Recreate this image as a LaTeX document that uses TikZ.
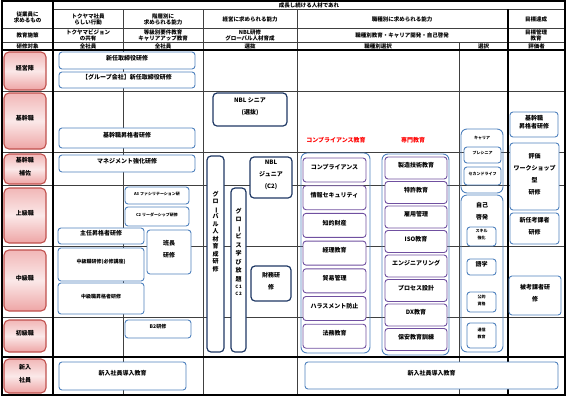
\documentclass[tikz,border=0pt]{standalone}
\usepackage{fontspec}
\setmainfont{Noto Sans CJK JP}
\usepackage{graphicx}
\usepackage{tikz}
\usetikzlibrary{fit,positioning}
\definecolor{wakublue}{RGB}{79,129,189}
\definecolor{nblnavy}{RGB}{31,56,100}
\definecolor{cppurple}{RGB}{112,80,160}
\definecolor{lvlred}{RGB}{192,80,77}
\definecolor{lvlpink}{RGB}{238,165,165}
\newcommand\tatebo{\rotatebox[origin=c]{-90}{ー}}
\tikzset{
  cell/.style={draw=black!75,line width=0.6pt},
  thickrule/.style={draw=black,line width=1.1pt},
  hd/.style={font=\fontsize{5.5}{6}\selectfont\bfseries,align=center,inner sep=0pt},
  lvl/.style={draw=lvlred,line width=1.1pt,rounded corners=5pt,top color=lvlpink!80,bottom color=lvlpink,middle color=lvlpink!25,inner sep=0pt,align=center,font=\fontsize{6}{13}\selectfont\bfseries},
  bx/.style={draw=wakublue,line width=0.9pt,rounded corners=3pt,fill=white,inner sep=0pt,align=center,font=\fontsize{6}{12}\selectfont\bfseries},
  nbl/.style={bx,draw=nblnavy,line width=1.2pt,rounded corners=4pt},
  cp/.style={bx,draw=cppurple},
  grp/.style={draw=wakublue,line width=0.9pt,rounded corners=6pt,inner sep=0pt},
  smalltxt/.style={font=\fontsize{4}{7}\selectfont\bfseries},
  midtxt/.style={font=\fontsize{5}{8}\selectfont\bfseries},
  redlab/.style={text=red,font=\fontsize{6}{6}\selectfont\bfseries,inner sep=0pt},
}

\begin{document}
\begin{tikzpicture}[x=1pt,y=-1pt]
\useasboundingbox (0,0) rectangle (567,397);
% --- table rules
\draw[cell] (53,9) -- (565,9);
\draw[cell] (2,28) -- (565,28);
\draw[cell] (2,42) -- (565,42);
\foreach \y in {91,152,185,246,317} \draw[cell] (2,\y) -- (565,\y);
\foreach \x in {123,203,297} \draw[cell] (\x,9) -- (\x,395);
\draw[cell] (459,42) -- (459,395);
\draw[thickrule] (2,50) -- (565,50);
\draw[thickrule] (2,357) -- (565,357);
\draw[thickrule] (53,1) -- (53,395);
\draw[thickrule] (508,9) -- (508,395);
\draw[thickrule] (2,1) rectangle (565,395);

% --- header
\node[hd] (seicho) at (309,5) {成長し続ける人材であれ};
\node[hd] (motomeru) at (27.5,17) {従業員に\\求めるもの};
\node[hd] (kodo) at (88,19) {トクヤマ社員\\らしい行動};
\node[hd] (kaiso) at (163,19) {階層別に\\求められる能力};
\node[hd] (keieinoryoku) at (250,19) {経営に求められる能力};
\node[hd] (shokushu) at (402,19) {職種別に求められる能力};
\node[hd] (mokuhyo) at (536,19) {目標達成};
\node[hd] (shisaku) at (27.5,35) {教育施策};
\node[hd] (vision) at (88,35) {トクヤマビジョン\\の共有};
\node[hd] (tokyu) at (163,35) {等級別要件教育\\キャリアアップ教育};
\node[hd] (nblkenshu) at (250,35) {NBL研修\\グローバル人材育成};
\node[hd] (shokushukyoiku) at (402,35) {職種別教育・キャリア開発・自己啓発};
\node[hd] (mokuhyokanri) at (536,35) {目標管理\\教育};
\node[hd] (taisho) at (27.5,46) {研修対象};
\node[hd] (zen1) at (88,46) {全社員};
\node[hd] (zen2) at (163,46) {全社員};
\node[hd] (senbatsu) at (250,46) {選抜};
\node[hd] (shokusen) at (378,46) {職種別選択};
\node[hd] (sentaku) at (483.5,46) {選択};
\node[hd] (hyokasha) at (536.5,46) {評価者};

% --- levels
\node[lvl,fit={(4,52) (46,90)}] (keiei) {経営陣};
\node[lvl,fit={(4,93) (46,149)}] (kikan) {基幹職};
\node[lvl,fit={(4,154) (46,184)}] (hosa) {基幹職\\補佐};
\node[lvl,fit={(4,188) (46,243)}] (jokyu) {上級職};
\node[lvl,fit={(4,250) (46,311)}] (chukyu) {中級職};
\node[lvl,fit={(4,320) (46,352)}] (shokyu) {初級職};
\node[lvl,fit={(4,359) (46,393)}] (shinnyu) {新入\\社員};

% --- tokuyama / kaiso columns
\node[bx,fit={(59,52) (195,69)}] (torishimari) {新任取締役研修};
\node[bx,fit={(59,72) (195,88)}] (gtorishimari) {【グループ会社】新任取締役研修};
\node[bx,fit={(59,128) (195,148)}] (kikanshokaku) {基幹職昇格者研修};
\node[bx,fit={(59,155) (195,172)}] (management) {マネジメント強化研修};
\node[bx,smalltxt,fit={(125,187) (189,204)}] (facil) {A3\ ファシリテーション研};
\node[bx,smalltxt,fit={(125,207) (189,226)}] (leader) {C2\ リーダーシップ研修};
\node[bx,fit={(58,228) (144,244)}] (shunin) {主任昇格者研修};
\node[bx,fit={(147,230) (191,274)}] (hancho) {班長\\研修};
\node[bx,midtxt,fit={(58,248) (144,281)}] (chukyukenshu) {中級職研修(必修講座)};
\node[bx,midtxt,fit={(58,283) (144,314)}] (chukyushokaku) {中級職昇格者研修};
\node[bx,midtxt,fit={(125,320) (191,338)}] (bni) {B2研修};
\node[bx,fit={(59,362) (186,390)}] (donyu) {新入社員導入教育};

% --- NBL / global
\node[nbl,fit={(213,93) (287,126)}] (nblsenior) {NBL シニア\\(選抜)};
\node[nbl,fit={(250,157) (292,198)}] (nbljunior) {NBL\\ジュニア\\(C2)};
\node[nbl,fit={(207,156) (224,352)}] (global) {};
\node[hd,font=\fontsize{6}{7.5}\selectfont\bfseries,anchor=north] (globaltxt) at (215.5,191) {グ\\ロ\\\tatebo\\バ\\ル\\人\\材\\育\\成\\研\\修};
\node[nbl,fit={(231,188) (246,352)}] (globis) {};
\node[hd,font=\fontsize{6}{8.5}\selectfont\bfseries,anchor=north] (globistxt) at (238.5,208) {グ\\ロ\\\tatebo\\ビ\\ス\\学\\び\\放\\題\\[-1pt]{\fontsize{4.5}{5}\selectfont C\,1}\\[-2pt]{\fontsize{4.5}{5}\selectfont C\,2}};
\node[nbl,fit={(251,266) (291,301)}] (zaimu) {財務研\\修};

% --- shokushu
\node[redlab] (cplab) at (336,140) {コンプライアンス教育};
\node[redlab] (smlab) at (413,140) {専門教育};
\node[grp,fit={(301,153) (370,353)}] (cpgrp) {};
\node[grp,fit={(382,154) (449,355)}] (smgrp) {};
\foreach \t [count=\i from 0] in {コンプライアンス,情報セキュリティ,知的財産,経理教育,貿易管理,ハラスメント防止,法務教育}
  \node[cp,fit={(303,{158+27.7*\i}) (366,{182+27.7*\i})}] (cp\i) {\t};
\foreach \t [count=\i from 0] in {製造技術教育,特許教育,雇用管理,ISO教育,エンジニアリング,プロセス設計,DX教育,保安教育訓練}
  \node[cp,fit={(385,{157+24.5*\i}) (447,{179+24.5*\i})}] (sm\i) {\t};
\node[bx,fit={(305,362) (558,389)}] (donyu2) {新入社員導入教育};

% --- sentaku
\node[grp,fit={(461,129) (503,193)}] (career) {};
\node[hd,smalltxt] (careertxt) at (482,138) {キャリア};
\node[bx,smalltxt,fit={(464,147) (501,163)}] (presenior) {プレシニア};
\node[bx,smalltxt,fit={(464,167) (501,185)}] (second) {セカンドライフ};
\node[grp,fit={(461,195) (503,352)}] (jiko) {};
\node[hd,font=\fontsize{6}{12}\selectfont\bfseries] (jikotxt) at (482,211) {自己\\啓発};
\node[bx,smalltxt,fit={(467,227) (496,246)}] (skill) {スキル\\強化};
\node[bx,fit={(467,259) (496,275)}] (gogaku) {語学};
\node[bx,smalltxt,fit={(467,292) (496,312)}] (koteki) {公的\\資格};
\node[bx,smalltxt,fit={(467,323) (496,348)}] (tsushin) {通信\\教育};

% --- mokuhyo
\node[bx,font=\fontsize{6}{8}\selectfont\bfseries,fit={(510,112) (558,137)}] (kikanshokaku2) {基幹職\\昇格者研修};
\node[bx,fit={(510,143) (559,210)}] (hyoka) {評価\\ワークショップ\\型\\研修};
\node[bx,fit={(510,213) (559,244)}] (shinninkoka) {新任考課者\\研修};
\node[bx,fit={(509,276) (561,315)}] (hikoka) {被考課者研\\修};
\end{tikzpicture}
\end{document}
